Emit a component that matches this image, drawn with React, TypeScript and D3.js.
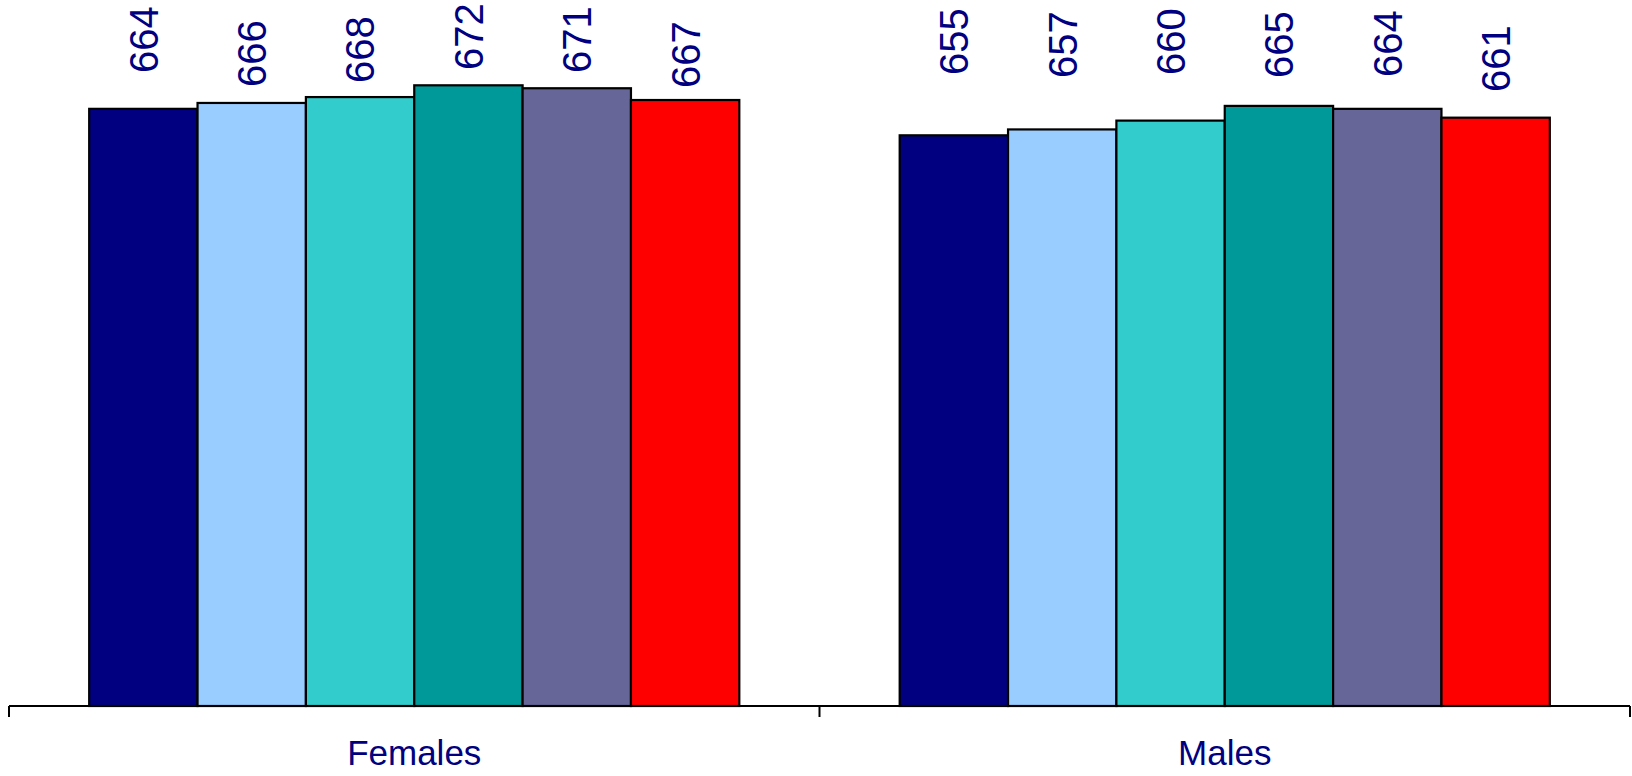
import React from "react";
import * as d3 from "d3";

const groups = ["Females", "Males"];
const seriesKeys = ["s1", "s2", "s3", "s4", "s5", "s6"];
const seriesColors = ["#000080", "#99CCFF", "#33CCCC", "#009999", "#666699", "#FF0000"];
const femalesValues = [664, 666, 668, 672, 671, 667];
const malesValues = [655, 657, 660, 665, 664, 661];
// value (in data units) where each rotated label begins
const femalesLabelAt = [676.2, 671.4, 672.8, 677.2, 676.2, 671.1];
const malesLabelAt = [675.5, 674.5, 675.5, 674.5, 674.8, 669.7];

const W = 1632;
const H = 776;

export default function App() {
  const values = [femalesValues, malesValues];
  const labelAt = [femalesLabelAt, malesLabelAt];

  const x0 = d3.scaleBand<string>().domain(groups).range([9, 1630]).paddingInner(0).paddingOuter(0);
  const x1 = d3
    .scaleBand<string>()
    .domain(seriesKeys)
    .range([0, x0.bandwidth()])
    .paddingInner(0)
    .paddingOuter(0.74);
  const y = d3.scaleLinear().domain([461, 701]).range([706, 0]);
  const axisY = y(461);

  return (
    <svg
      width={W}
      height={H}
      viewBox={`0 0 ${W} ${H}`}
      style={{ position: "absolute", left: 0, top: 0, display: "block", background: "#fff" }}
    >
      <rect x={0} y={0} width={W} height={H} fill="#fff" />
      {groups.map((g, gi) => (
        <g key={g} transform={`translate(${x0(g)},0)`}>
          {seriesKeys.map((k, si) => {
            const v = values[gi][si];
            const bx = x1(k)!;
            const bw = x1.bandwidth();
            return (
              <rect
                key={k}
                x={bx}
                y={y(v)}
                width={bw}
                height={axisY - y(v)}
                fill={seriesColors[si]}
                stroke="#000"
                strokeWidth={2.2}
              />
            );
          })}
          {seriesKeys.map((k, si) => {
            const v = values[gi][si];
            const cx = x1(k)! + x1.bandwidth() / 2;
            const ly = y(labelAt[gi][si]);
            return (
              <text
                key={"l" + k}
                transform={`translate(${cx},${ly}) rotate(-90)`}
                dy="0.36em"
                textAnchor="start"
                fontFamily="'Liberation Sans', Arial, sans-serif"
                fontSize={40}
                fill="#000080"
              >
                {v}
              </text>
            );
          })}
          <text
            x={x0.bandwidth() / 2}
            y={765}
            textAnchor="middle"
            fontFamily="'Liberation Sans', Arial, sans-serif"
            fontSize={35}
            fill="#000080"
          >
            {g}
          </text>
        </g>
      ))}
      <line x1={9} x2={1630} y1={axisY} y2={axisY} stroke="#000" strokeWidth={2} />
      {[...groups.map((g) => x0(g)!), x0.range()[1]].map((tx, i) => (
        <line key={i} x1={tx} x2={tx} y1={axisY} y2={axisY + 11} stroke="#000" strokeWidth={2} />
      ))}
    </svg>
  );
}
